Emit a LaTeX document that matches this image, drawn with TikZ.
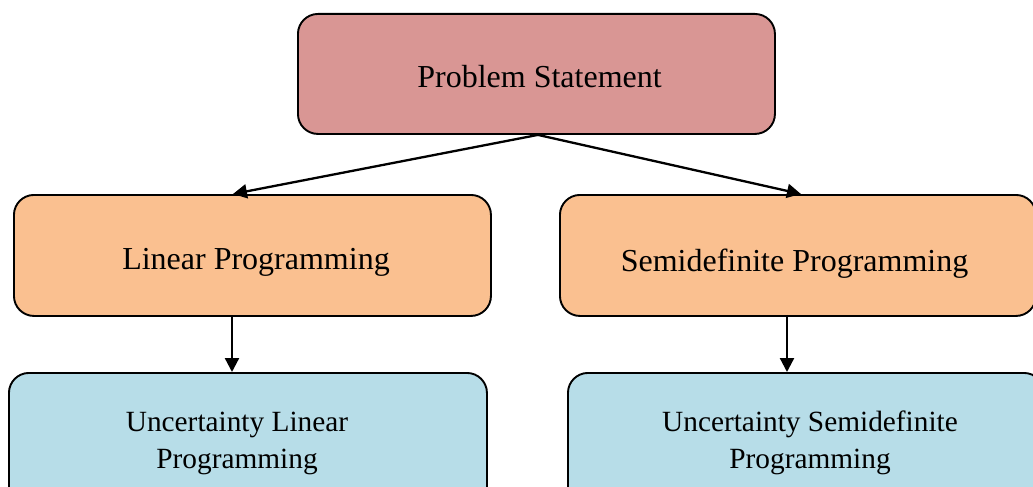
\documentclass[tikz,border=0pt]{standalone}
\usepackage{fontspec}
\setmainfont{Liberation Serif}
\usetikzlibrary{arrows.meta,calc}
\definecolor{pscol}{HTML}{D99694}
\definecolor{lpcol}{HTML}{FAC090}
\definecolor{ucol}{HTML}{B7DDE8}
\tikzset{
  box/.style={draw=black, line width=1.9pt, rounded corners=20pt, inner sep=0pt, anchor=north west},
  bigtext/.style={font=\fontsize{32}{38}\selectfont, inner sep=0pt, anchor=base},
  smalltext/.style={font=\fontsize{29.33}{37}\selectfont, inner sep=0pt, align=center, anchor=center},
  arr/.style={line width=2.3pt, -{Triangle[length=14pt,width=14pt]}}
}
\begin{document}
\begin{tikzpicture}[x=1pt,y=-1pt]
\useasboundingbox[fill=white] (0,0) rectangle (1033,487);
\clip (0,0) rectangle (1033,487);
% boxes
\node[box, fill=pscol, minimum width=477pt, minimum height=120pt] (ps) at (297,13) {};
\node[box, fill=lpcol, minimum width=477pt, minimum height=121pt] (lp) at (13,194) {};
\node[box, fill=lpcol, minimum width=476pt, minimum height=121pt] (sdp) at (559,194) {};
\node[box, fill=ucol, minimum width=478pt, minimum height=136pt] (ulp) at (8,372) {};
\node[box, fill=ucol, minimum width=476pt, minimum height=136pt] (usdp) at (567,372) {};
% texts
\node[bigtext] (pst) at (539.5,87) {Problem Statement};
\node[bigtext] (lpt) at (256,269) {Linear Programming};
\node[bigtext] (sdpt) at (794.5,271) {Semidefinite Programming};
\node[smalltext] (ulpt) at (237,443) {Uncertainty Linear\\Programming};
\node[smalltext] (usdpt) at (810,443) {Uncertainty Semidefinite\\Programming};
% connectors
\draw[arr] ([xshift=1.5pt]ps.south) -- ([xshift=-19.5pt]lp.north);
\draw[arr] ([xshift=1.5pt]ps.south) -- ([xshift=3pt]sdp.north);
\draw[arr] (lp.south -| 232,0) -- (ulp.north -| 232,0);
\draw[arr] ([yshift=2pt]sdp.south -| 787,0) -- (usdp.north -| 787,0);
\end{tikzpicture}
\end{document}
